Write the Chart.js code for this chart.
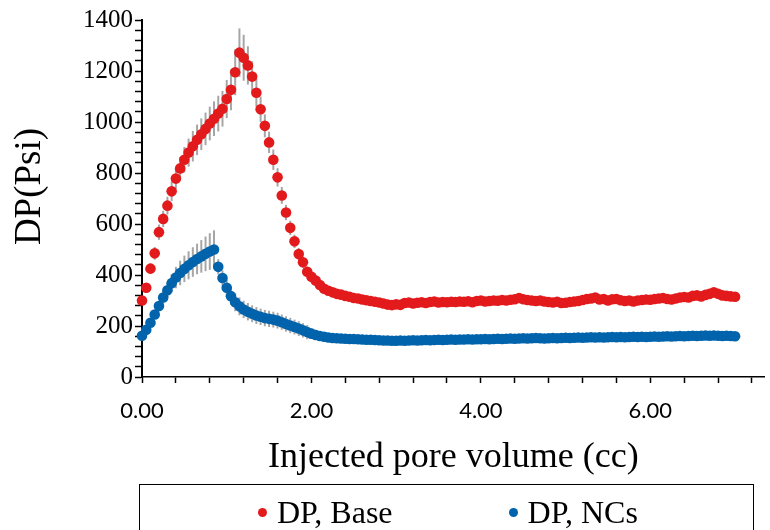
<!DOCTYPE html>
<html>
<head>
<meta charset="utf-8">
<script src="https://cdn.jsdelivr.net/npm/chart.js@4.4.1/dist/chart.umd.min.js"></script>
<style>
    html, body { margin: 0; padding: 0; background: #fff; overflow: hidden; }
    #wrap { position: relative; width: 770px; height: 530px; }
    #legend {
        position: absolute; left: 139px; top: 484px; width: 615px; height: 56px;
        border: 1.5px solid #000; box-sizing: border-box;
        display: flex; align-items: center; padding-left: 118px; gap: 116px;
        font-family: 'Liberation Serif', 'Times New Roman', serif; font-size: 32px; color: #000;
    }
    .item { display: flex; align-items: center; line-height: 32px; }
    .dot { width: 9px; height: 9px; border-radius: 50%; margin-right: 10px; }
</style>
</head>
<body>
<div id="wrap">
    <canvas id="dpChart" width="770" height="530"></canvas>
    <div id="legend"></div>
</div>
<script>
// injected pore volume (cc)
const poreVolume = [
    0.00, 0.05, 0.10, 0.15, 0.20, 0.25, 0.30, 0.35, 0.40, 0.45,
    0.50, 0.55, 0.60, 0.65, 0.70, 0.75, 0.80, 0.85, 0.90, 0.95,
    1.00, 1.05, 1.10, 1.15, 1.20, 1.25, 1.30, 1.35, 1.40, 1.45,
    1.50, 1.55, 1.60, 1.65, 1.70, 1.75, 1.80, 1.85, 1.90, 1.95,
    2.00, 2.05, 2.10, 2.15, 2.20, 2.25, 2.30, 2.35, 2.40, 2.45,
    2.50, 2.55, 2.60, 2.65, 2.70, 2.75, 2.80, 2.85, 2.90, 2.95,
    3.00, 3.05, 3.10, 3.15, 3.20, 3.25, 3.30, 3.35, 3.40, 3.45,
    3.50, 3.55, 3.60, 3.65, 3.70, 3.75, 3.80, 3.85, 3.90, 3.95,
    4.00, 4.05, 4.10, 4.15, 4.20, 4.25, 4.30, 4.35, 4.40, 4.45,
    4.50, 4.55, 4.60, 4.65, 4.70, 4.75, 4.80, 4.85, 4.90, 4.95,
    5.00, 5.05, 5.10, 5.15, 5.20, 5.25, 5.30, 5.35, 5.40, 5.45,
    5.50, 5.55, 5.60, 5.65, 5.70, 5.75, 5.80, 5.85, 5.90, 5.95,
    6.00, 6.05, 6.10, 6.15, 6.20, 6.25, 6.30, 6.35, 6.40, 6.45,
    6.50, 6.55, 6.60, 6.65, 6.70, 6.75, 6.80, 6.85, 6.90, 6.95,
    7.00
];

// DP, Base (psi)
const dpBase = [
    300, 350, 425, 485, 568, 620, 672, 728, 778, 818,
    852, 880, 905, 930, 952, 973, 994, 1013, 1033, 1052,
    1090, 1126, 1195, 1272, 1252, 1222, 1178, 1115, 1050, 985,
    920, 852, 783, 712, 645, 585, 532, 482, 450, 413,
    393, 378, 361, 346, 338, 332, 326, 323, 318, 315,
    310, 308, 304, 301, 298, 295, 292, 288, 284, 282,
    285, 283, 290, 292, 288, 291, 293, 290, 294, 296,
    292, 294, 293, 295, 294, 296, 295, 297, 293, 298,
    300, 296, 298, 300, 299, 302, 300, 303, 305, 310,
    305, 302, 300, 298, 300, 296, 294, 292, 295, 290,
    291, 294, 296, 298, 302, 306, 308, 312, 304, 306,
    300, 305, 306, 301, 298, 300, 296, 300, 302, 304,
    303, 306, 308, 310, 306, 304, 308, 312, 314, 312,
    318, 320, 316, 322, 326, 332, 326, 320, 318, 316,
    315
];
const errBase = [
    15, 18, 20, 25, 30, 32, 35, 38, 40, 45,
    50, 55, 60, 60, 62, 64, 66, 68, 70, 70,
    75, 80, 90, 95, 90, 75, 60, 55, 50, 45,
    42, 40, 36, 33, 30, 28, 26, 24, 22, 20,
    18, 17, 16, 15, 15, 14, 14, 13, 13, 12,
    12, 12, 11, 11, 11, 10, 10, 10, 10, 10,
    10, 10, 10, 10, 10, 10, 10, 10, 10, 10,
    10, 10, 10, 10, 10, 10, 10, 10, 10, 10,
    10, 10, 10, 10, 10, 10, 10, 10, 10, 10,
    10, 10, 10, 10, 10, 10, 10, 10, 10, 10,
    10, 10, 10, 10, 10, 10, 10, 10, 10, 10,
    10, 10, 10, 10, 10, 10, 10, 10, 10, 10,
    10, 10, 10, 10, 10, 10, 10, 10, 10, 10,
    10, 10, 10, 10, 10, 10, 10, 10, 10, 10,
    10
];

// DP, NCs (psi)
const dpNCs = [
    162, 185, 213, 245, 278, 312, 340, 368, 390, 408,
    424, 438, 451, 463, 473, 483, 492, 500, 432, 388,
    350, 317, 293, 277, 265, 256, 248, 241, 236, 231,
    228, 225, 221, 215, 208, 202, 196, 190, 183, 176,
    170, 165, 161, 158, 155, 153, 152, 151, 150, 149,
    149, 148, 147, 146, 146, 145, 144, 143, 143, 142,
    142, 143, 142, 143, 144, 143, 144, 145, 144, 145,
    146, 145, 146, 147, 146, 147, 147, 148, 147, 148,
    148, 149, 148, 149, 150, 149, 150, 151, 150, 151,
    152, 151, 152, 153, 152, 151, 152, 153, 152, 153,
    154, 153, 154, 155, 154, 155, 156, 155, 156, 155,
    156, 157, 156, 157, 156, 157, 158, 157, 158, 157,
    158, 159, 158, 159, 160, 159, 160, 161, 160, 161,
    162, 161, 162, 163, 162, 163, 162, 161, 162, 161,
    160
];
const errNCs = [
    10, 12, 15, 18, 20, 25, 30, 35, 42, 48,
    52, 55, 58, 60, 64, 68, 72, 75, 30, 30,
    32, 34, 35, 35, 34, 34, 33, 33, 32, 32,
    32, 31, 31, 30, 30, 30, 29, 29, 28, 28,
    20, 20, 18, 18, 16, 16, 15, 15, 14, 14,
    12, 12, 12, 11, 11, 10, 10, 10, 10, 10,
    10, 10, 10, 10, 10, 10, 10, 10, 10, 10,
    10, 10, 10, 10, 10, 10, 10, 10, 10, 10,
    10, 10, 10, 10, 10, 10, 10, 10, 10, 10,
    10, 10, 10, 10, 10, 10, 10, 10, 10, 10,
    10, 10, 10, 10, 10, 10, 10, 10, 10, 10,
    10, 10, 10, 10, 10, 10, 10, 10, 10, 10,
    10, 10, 10, 10, 10, 10, 10, 10, 10, 10,
    10, 10, 10, 10, 10, 10, 10, 10, 10, 10,
    10
];

const seriesNames = ['DP, Base', 'DP, NCs'];
const seriesColors = ['#E31A1C', '#0063AC'];

// axis ticks (major ones get a label)
const xTicks = [0, 0.4, 0.8, 1.2, 1.6, 2, 2.4, 2.8, 3.2, 3.6, 4, 4.4, 4.8, 5.2, 5.6, 6, 6.4, 6.8, 7.2];
const xLabelled = [0, 2, 4, 6];
const yTicks = [0, 40, 80, 120, 160, 200, 240, 280, 320, 360, 400, 440, 480, 520, 560, 600, 640, 680, 720, 760,
    800, 840, 880, 920, 960, 1000, 1040, 1080, 1120, 1160, 1200, 1240, 1280, 1320, 1360, 1400];
const yLabelled = [0, 200, 400, 600, 800, 1000, 1200, 1400];
const yTitle = 'DP(Psi)';

function toPoints(values) {
    return values.map((v, i) => ({ x: poreVolume[i], y: v }));
}

const serif = "'Liberation Serif', 'Times New Roman', serif";

// gray vertical error bars, drawn under the markers
const errorBars = {
    id: 'errorBars',
    beforeDatasetsDraw(chart) {
        const { ctx, scales: { x, y } } = chart;
        ctx.save();
        ctx.strokeStyle = '#A6A6A6';
        ctx.lineWidth = 2;
        chart.data.datasets.forEach(ds => {
            ds.data.forEach((p, i) => {
                const e = ds.errors[i];
                const px = x.getPixelForValue(p.x);
                ctx.beginPath();
                ctx.moveTo(px, y.getPixelForValue(p.y - e));
                ctx.lineTo(px, y.getPixelForValue(p.y + e));
                ctx.stroke();
            });
        });
        ctx.restore();
    }
};

// y title sits a bit above the middle of the plot, like the original
const yAxisTitle = {
    id: 'yAxisTitle',
    afterDraw(chart) {
        const { ctx, chartArea } = chart;
        ctx.save();
        ctx.translate(30, (chartArea.top + chartArea.bottom) / 2 - 12);
        ctx.rotate(-Math.PI / 2);
        ctx.font = '37px ' + serif;
        ctx.fillStyle = '#000';
        ctx.textAlign = 'center';
        ctx.textBaseline = 'middle';
        ctx.fillText(yTitle, 0, 0);
        ctx.restore();
    }
};

new Chart(document.getElementById('dpChart').getContext('2d'), {
    type: 'scatter',
    data: {
        datasets: [
            {
                label: seriesNames[0],
                data: toPoints(dpBase),
                errors: errBase,
                backgroundColor: seriesColors[0],
                borderColor: seriesColors[0],
                borderWidth: 0,
                pointRadius: 5.3,
                clip: false
            },
            {
                label: seriesNames[1],
                data: toPoints(dpNCs),
                errors: errNCs,
                backgroundColor: seriesColors[1],
                borderColor: seriesColors[1],
                borderWidth: 0,
                pointRadius: 5.3,
                clip: false
            }
        ]
    },
    options: {
        responsive: false,
        animation: false,
        devicePixelRatio: 1,
        layout: { padding: { top: 20, left: 0, right: 0, bottom: 51 } },
        plugins: {
            legend: { display: false },
            tooltip: { enabled: false }
        },
        scales: {
            x: {
                type: 'linear',
                min: 0,
                max: 7.35,
                afterBuildTicks: scale => { scale.ticks = xTicks.map(v => ({ value: v })); },
                afterFit: scale => { scale.height = 102; },
                border: { color: '#000', width: 1.5 },
                grid: { drawOnChartArea: false, drawTicks: true, tickLength: 6, tickColor: '#000', tickWidth: 1.5 },
                ticks: {
                    autoSkip: false,
                    maxRotation: 0,
                    padding: 15,
                    color: '#000',
                    font: { family: 'Lato, sans-serif', size: 22 },
                    callback: v => xLabelled.includes(v) ? v.toFixed(2) : ''
                },
                title: {
                    display: true,
                    text: 'Injected pore volume (cc)',
                    color: '#000',
                    font: { family: serif, size: 36 },
                    padding: { top: 0, bottom: 0 }
                }
            },
            y: {
                type: 'linear',
                min: 0,
                max: 1400,
                afterBuildTicks: scale => { scale.ticks = yTicks.map(v => ({ value: v })); },
                afterFit: scale => { scale.width = 142; },
                border: { color: '#000', width: 2 },
                grid: { drawOnChartArea: false, drawTicks: true, tickLength: 7, tickColor: '#000', tickWidth: 1.5 },
                ticks: {
                    autoSkip: false,
                    padding: 2,
                    color: '#000',
                    font: { family: serif, size: 25 },
                    callback: v => yLabelled.includes(v) ? String(v) : ''
                }
            }
        }
    },
    plugins: [errorBars, yAxisTitle]
});

// legend box under the chart
const legend = document.getElementById('legend');
seriesNames.forEach((name, i) => {
    const item = document.createElement('div');
    item.className = 'item';
    const dot = document.createElement('span');
    dot.className = 'dot';
    dot.style.background = seriesColors[i];
    const text = document.createElement('span');
    text.textContent = name;
    item.appendChild(dot);
    item.appendChild(text);
    legend.appendChild(item);
});
</script>
</body>
</html>
